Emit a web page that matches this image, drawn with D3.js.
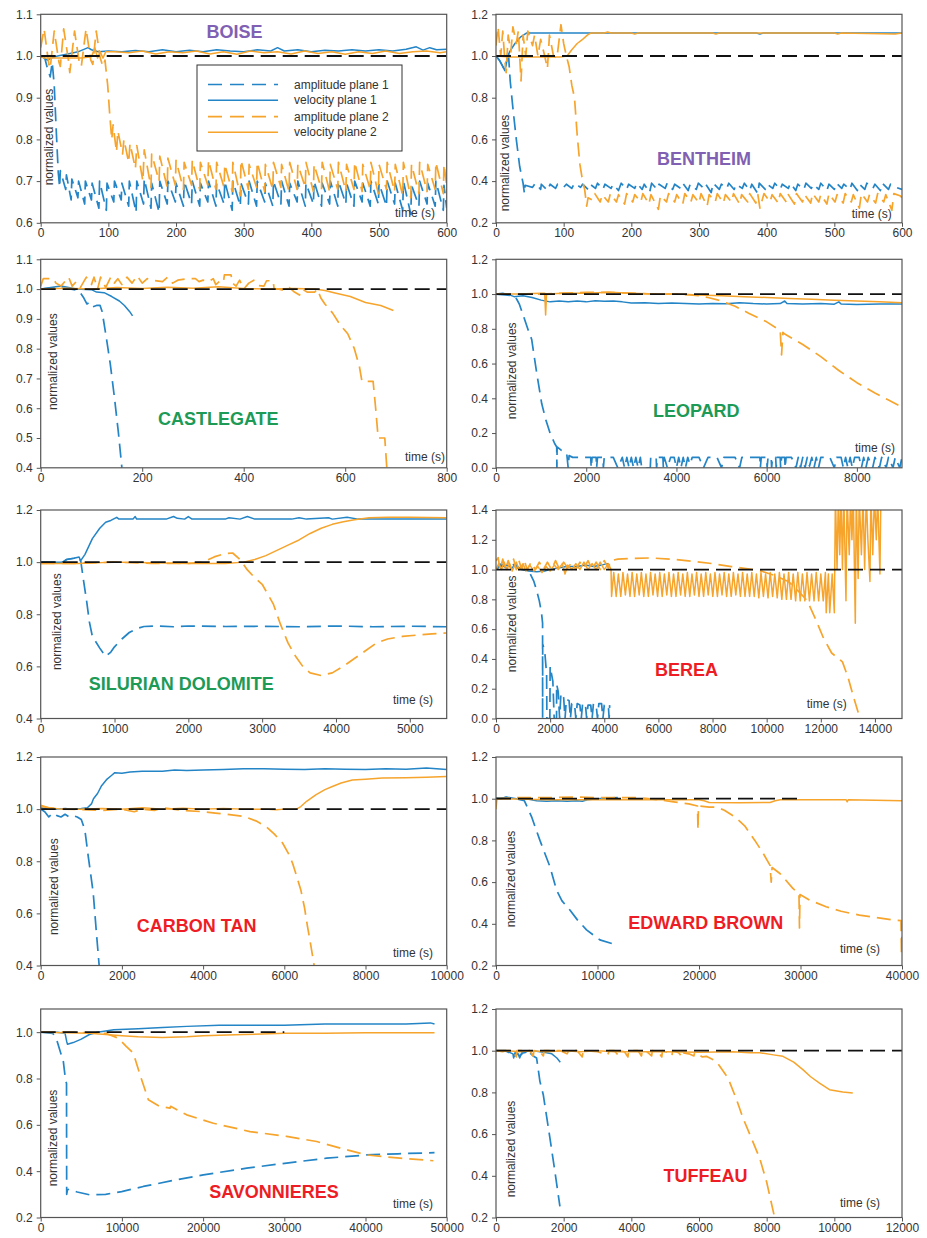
<!DOCTYPE html>
<html>
<head>
<meta charset="utf-8">
<script src="https://cdn.jsdelivr.net/npm/d3@7"></script>
<style>
  body { margin: 0; background: #fff; }
  text { font-family: "Liberation Sans", Arial, sans-serif; }
</style>
</head>
<body>
<svg id="chart" width="927" height="1238"></svg>
<script>
// ---------------- data: [time (s), normalized value] ----------------
// BOISE
const boiseAmp1 = [[0,1.0],[6,0.995],[10,0.97],[14,0.95],[17,0.985],[20,0.93],[23,0.82],[26,0.72],[28,0.685],[29,0.725],[37,0.68],[38,0.715],[45,0.655],[46,0.705],[55,0.66],[56,0.70],[65,0.645],[66,0.70],[75,0.655],[76,0.695],[86,0.635],[87,0.70],[97,0.63],[98,0.695],[108,0.65],[109,0.70],[119,0.655],[120,0.695],[130,0.64],[131,0.70],[141,0.625],[142,0.70],[152,0.645],[153,0.705],[163,0.635],[164,0.695],[175,0.625],[176,0.70],[187,0.645],[188,0.70],[199,0.65],[200,0.695],[211,0.64],[212,0.70],[223,0.645],[224,0.70],[235,0.64],[236,0.695],[247,0.65],[248,0.70],[259,0.64],[260,0.695],[271,0.645],[272,0.70],[283,0.63],[284,0.70],[295,0.64],[296,0.695],[307,0.645],[308,0.70],[319,0.64],[320,0.70],[331,0.65],[332,0.695],[343,0.64],[344,0.70],[355,0.645],[356,0.70],[367,0.64],[368,0.695],[379,0.65],[380,0.70],[391,0.64],[392,0.695],[403,0.645],[404,0.70],[415,0.64],[416,0.695],[427,0.645],[428,0.70],[439,0.64],[440,0.70],[451,0.645],[452,0.695],[463,0.64],[464,0.70],[475,0.65],[476,0.695],[487,0.64],[488,0.70],[499,0.645],[500,0.695],[511,0.64],[512,0.70],[523,0.645],[524,0.695],[535,0.63],[536,0.70],[547,0.62],[548,0.69],[559,0.64],[560,0.70],[571,0.645],[572,0.695],[583,0.64],[584,0.70],[595,0.63],[596,0.69],[600,0.635]];
const boiseVel1 = [[0,1.0],[5,0.995],[10,0.99],[15,0.995],[25,1.0],[40,1.005],[55,1.01],[70,1.02],[75,1.015],[85,1.01],[100,1.012],[120,1.01],[140,1.013],[160,1.01],[180,1.015],[200,1.01],[220,1.014],[240,1.01],[260,1.015],[280,1.012],[300,1.01],[320,1.015],[340,1.012],[350,1.02],[360,1.012],[380,1.015],[400,1.01],[420,1.014],[440,1.012],[460,1.015],[480,1.012],[500,1.015],[520,1.012],[540,1.016],[555,1.022],[565,1.014],[575,1.02],[585,1.015],[600,1.016]];
const boiseAmp2 = [[0,1.02],[5,1.065],[12,0.98],[14,0.97],[20,1.06],[27,0.985],[29,0.975],[34,1.065],[41,0.99],[43,0.96],[50,1.06],[57,0.985],[60,0.975],[67,1.065],[74,0.99],[77,0.98],[82,1.06],[88,0.995],[92,0.975],[95,0.99],[99,0.93],[102,0.86],[105,0.80],[107,0.835],[112,0.77],[114,0.82],[121,0.765],[123,0.80],[130,0.745],[132,0.79],[140,0.73],[142,0.785],[151,0.70],[153,0.775],[163,0.685],[164,0.765],[175,0.70],[176,0.76],[187,0.685],[188,0.755],[199,0.69],[200,0.75],[211,0.68],[212,0.745],[223,0.69],[224,0.75],[235,0.68],[236,0.745],[247,0.69],[248,0.75],[259,0.68],[260,0.745],[271,0.685],[272,0.74],[283,0.675],[284,0.745],[295,0.665],[296,0.75],[307,0.68],[308,0.74],[319,0.685],[320,0.745],[331,0.675],[332,0.74],[343,0.68],[344,0.745],[355,0.685],[356,0.74],[367,0.675],[368,0.745],[379,0.68],[380,0.74],[391,0.685],[392,0.745],[403,0.675],[404,0.74],[415,0.68],[416,0.745],[427,0.675],[428,0.74],[439,0.68],[440,0.745],[451,0.675],[452,0.74],[463,0.68],[464,0.745],[475,0.675],[476,0.74],[487,0.68],[488,0.745],[499,0.67],[500,0.74],[511,0.68],[512,0.745],[523,0.675],[524,0.74],[535,0.665],[536,0.745],[547,0.66],[548,0.74],[559,0.67],[560,0.745],[571,0.675],[572,0.74],[583,0.68],[584,0.745],[595,0.67],[596,0.74],[600,0.69]];
const boiseVel2 = [[0,1.0],[5,0.995],[60,0.995],[75,0.998],[80,1.02],[84,0.995],[88,1.01],[92,0.995],[96,1.01],[110,1.01],[130,1.008],[150,1.012],[170,1.005],[190,1.01],[210,1.008],[230,1.012],[250,1.005],[270,1.01],[290,1.004],[310,1.012],[330,1.008],[350,1.01],[370,1.005],[390,1.012],[410,1.006],[430,1.01],[450,1.004],[470,1.01],[490,1.006],[510,1.012],[530,1.006],[550,1.01],[570,1.012],[590,1.008],[600,1.01]];

// BENTHEIM
const bentheimAmp1 = [[0,1.0],[5,0.98],[10,0.95],[13,0.93],[16,0.98],[18,1.03],[21,0.88],[25,0.75],[30,0.6],[35,0.47],[40,0.39],[42,0.34],[43,0.38],[54,0.37],[58,0.39],[66,0.36],[67,0.385],[76,0.355],[80,0.385],[88,0.365],[91,0.385],[100,0.37],[104,0.385],[112,0.365],[116,0.39],[125,0.37],[128,0.385],[136,0.36],[139,0.385],[147,0.365],[150,0.39],[158,0.36],[161,0.385],[170,0.365],[173,0.385],[181,0.355],[185,0.39],[193,0.36],[196,0.385],[205,0.365],[208,0.39],[216,0.36],[219,0.385],[227,0.345],[230,0.39],[238,0.36],[241,0.385],[250,0.365],[253,0.39],[261,0.36],[264,0.385],[273,0.365],[276,0.39],[284,0.355],[287,0.385],[296,0.36],[299,0.39],[307,0.365],[310,0.385],[318,0.345],[321,0.39],[330,0.36],[333,0.385],[341,0.365],[344,0.39],[352,0.36],[355,0.385],[364,0.365],[367,0.39],[375,0.355],[378,0.385],[387,0.34],[389,0.39],[398,0.36],[401,0.385],[409,0.365],[412,0.39],[420,0.36],[423,0.385],[432,0.365],[435,0.39],[443,0.355],[446,0.385],[455,0.36],[458,0.39],[466,0.365],[469,0.385],[477,0.36],[480,0.39],[489,0.355],[492,0.385],[500,0.36],[503,0.39],[511,0.365],[514,0.385],[523,0.36],[526,0.39],[534,0.355],[537,0.385],[545,0.36],[548,0.39],[557,0.365],[560,0.385],[568,0.355],[571,0.39],[580,0.36],[583,0.385],[591,0.37],[600,0.36]];
const bentheimVel1 = [[0,1.0],[5,0.98],[10,0.95],[13,0.93],[16,0.98],[20,1.02],[28,1.06],[36,1.09],[45,1.11],[100,1.11],[200,1.11],[300,1.11],[385,1.11],[390,1.105],[395,1.11],[600,1.11]];
const bentheimAmp2 = [[0,1.05],[3,1.14],[7,1.0],[10,1.12],[13,0.98],[15,0.92],[18,1.1],[22,1.02],[25,1.14],[30,1.06],[33,1.12],[37,0.88],[40,1.1],[44,1.0],[47,1.12],[54,1.05],[57,1.1],[62,1.0],[66,1.08],[72,1.0],[76,0.94],[79,1.1],[85,1.0],[90,0.99],[96,1.15],[100,1.06],[104,1.0],[108,0.95],[112,0.86],[116,0.8],[120,0.62],[124,0.48],[128,0.4],[131,0.36],[134,0.28],[136,0.32],[142,0.31],[146,0.34],[154,0.3],[157,0.335],[166,0.3],[169,0.34],[178,0.3],[181,0.335],[190,0.29],[193,0.34],[202,0.3],[205,0.335],[214,0.3],[217,0.34],[226,0.29],[229,0.335],[240,0.265],[243,0.33],[252,0.3],[255,0.34],[264,0.3],[267,0.335],[276,0.29],[279,0.34],[288,0.3],[291,0.335],[300,0.295],[303,0.34],[312,0.28],[315,0.335],[324,0.3],[327,0.34],[336,0.295],[339,0.335],[348,0.3],[351,0.34],[360,0.29],[363,0.335],[372,0.3],[375,0.34],[384,0.295],[387,0.335],[390,0.27],[396,0.34],[405,0.3],[408,0.335],[417,0.295],[420,0.34],[429,0.3],[432,0.335],[441,0.29],[444,0.34],[453,0.3],[456,0.335],[465,0.295],[468,0.34],[477,0.3],[480,0.335],[489,0.29],[492,0.34],[501,0.3],[504,0.335],[513,0.295],[516,0.34],[525,0.3],[528,0.335],[537,0.27],[540,0.34],[549,0.3],[552,0.335],[561,0.295],[564,0.34],[573,0.3],[576,0.335],[585,0.26],[588,0.34],[597,0.33],[600,0.32]];
const bentheimVel2 = [[0,1.0],[20,0.995],[60,0.995],[95,0.995],[105,1.0],[112,1.03],[120,1.06],[128,1.08],[135,1.1],[140,1.11],[160,1.11],[165,1.115],[170,1.11],[200,1.11],[205,1.105],[210,1.11],[320,1.11],[325,1.105],[330,1.11],[500,1.11],[505,1.105],[510,1.11],[590,1.105],[600,1.11]];

// CASTLEGATE
const castleAmp1 = [[0,1.0],[30,1.005],[60,1.0],[75,0.995],[85,0.97],[91,0.95],[96,0.955],[102,0.94],[110,0.945],[117,0.945],[121,0.925],[129,0.84],[137,0.75],[145,0.64],[153,0.52],[160,0.4]];
const castleVel1 = [[0,1.0],[20,1.005],[40,1.01],[55,1.005],[70,1.0],[100,0.998],[110,0.99],[125,0.988],[140,0.975],[155,0.96],[165,0.945],[175,0.925],[181,0.91]];
const castleAmp2 = [[0,1.01],[5,1.035],[25,1.035],[30,1.02],[40,1.01],[55,1.04],[62,1.01],[70,1.025],[78,1.005],[90,1.04],[100,1.015],[105,1.04],[112,1.0],[118,1.04],[128,1.005],[138,1.04],[145,1.02],[152,1.035],[160,1.015],[170,1.04],[180,1.02],[190,1.045],[200,1.02],[210,1.035],[220,1.03],[240,1.025],[250,1.04],[260,1.02],[270,1.03],[290,1.035],[305,1.035],[312,1.025],[320,1.03],[330,1.025],[340,1.035],[345,1.015],[352,1.025],[360,1.022],[362,1.048],[375,1.048],[378,1.02],[385,1.01],[392,1.03],[400,1.0],[410,1.02],[420,1.03],[428,1.012],[440,1.01],[445,1.028],[458,1.028],[460,1.0],[470,1.0],[480,0.995],[490,1.005],[500,0.99],[510,0.98],[515,1.0],[525,0.99],[540,0.99],[545,1.0],[552,0.97],[560,0.95],[575,0.92],[590,0.88],[605,0.85],[618,0.8],[628,0.74],[633,0.69],[655,0.69],[660,0.6],[665,0.5],[678,0.5],[682,0.4]];
const castleVel2 = [[0,1.0],[50,1.003],[100,1.0],[150,1.005],[200,1.002],[250,1.006],[300,1.003],[350,1.008],[400,1.002],[450,1.0],[500,1.002],[540,1.0],[560,0.995],[580,0.987],[610,0.975],[640,0.955],[670,0.945],[695,0.928]];

// LEOPARD
const leopardAmp1 = [[0,1.0],[200,0.995],[400,0.99],[460,0.97],[520,0.94],[600,0.88],[717,0.79],[790,0.74],[900,0.55],[1013,0.37],[1100,0.28],[1198,0.2],[1300,0.14],[1346,0.12],[1350,0.0],[1355,0.12],[1450,0.1],[1567,0.085],[1600,0.0],[1620,0.07],[1700,0.06],[2100,0.06],[2110,0.0],[2130,0.06],[2220,0.06],[2230,0.0],[2250,0.06],[2370,0.06],[2380,0.0],[2400,0.06],[2600,0.06],[2700,0.0],[2800,0.06],[2850,0.0],[2900,0.06],[2950,0.0],[3000,0.06],[3050,0.0],[3100,0.06],[3150,0.0],[3200,0.06],[3230,0.0],[3420,0.0],[3430,0.06],[3550,0.06],[3560,0.0],[3580,0.06],[3700,0.06],[3710,0.0],[3730,0.06],[3800,0.0],[3870,0.06],[3950,0.06],[4000,0.0],[4050,0.06],[4100,0.0],[4150,0.06],[4200,0.0],[4250,0.06],[4300,0.02],[4350,0.06],[4500,0.06],[4600,0.0],[4700,0.06],[4900,0.06],[5000,0.0],[5050,0.06],[5300,0.06],[5400,0.0],[5450,0.06],[5850,0.06],[5860,0.0],[5880,0.06],[6000,0.06],[6010,0.0],[6030,0.06],[6100,0.06],[6110,0.0],[6130,0.06],[6200,0.06],[6210,0.0],[6230,0.06],[6300,0.06],[6310,0.0],[6330,0.06],[6400,0.06],[6410,0.0],[6430,0.06],[6550,0.06],[6650,0.0],[6700,0.06],[6750,0.0],[6800,0.06],[6850,0.0],[6900,0.06],[6950,0.01],[7000,0.06],[7050,0.0],[7100,0.06],[7150,0.0],[7200,0.06],[7400,0.06],[7500,0.0],[7550,0.06],[7650,0.06],[7700,0.0],[7750,0.06],[7800,0.0],[7850,0.06],[7900,0.0],[7950,0.06],[8050,0.06],[8100,0.0],[8150,0.06],[8200,0.0],[8250,0.06],[8350,0.0],[8400,0.06],[8500,0.0],[8550,0.06],[8650,0.0],[8700,0.06],[8800,0.0],[8850,0.06],[8950,0.0],[9000,0.06]];
const leopardVel1 = [[0,1.0],[150,1.005],[300,0.995],[400,0.985],[600,0.99],[800,0.98],[1000,0.965],[1200,0.955],[1400,0.96],[1600,0.955],[1800,0.96],[2000,0.955],[2200,0.962],[2400,0.958],[2600,0.96],[2800,0.955],[3000,0.948],[3300,0.95],[3600,0.945],[3900,0.948],[4200,0.945],[4500,0.943],[4800,0.946],[5100,0.944],[5400,0.95],[5700,0.945],[6000,0.943],[6300,0.945],[6400,0.96],[6450,0.945],[6800,0.943],[7200,0.945],[7500,0.942],[7600,0.955],[7650,0.943],[8000,0.94],[8500,0.943],[9000,0.943]];
const leopardAmp2 = [[0,1.0],[500,1.0],[1000,1.0],[1500,1.005],[2000,1.01],[2500,1.01],[3000,1.005],[3500,1.0],[4000,1.0],[4300,0.995],[4500,0.99],[4700,0.98],[5000,0.96],[5300,0.93],[5600,0.89],[6000,0.84],[6300,0.79],[6330,0.65],[6360,0.78],[6400,0.77],[6800,0.71],[7200,0.64],[7600,0.56],[8000,0.49],[8400,0.43],[8700,0.39],[9000,0.35]];
const leopardVel2 = [[0,1.0],[500,1.0],[1000,1.005],[1080,1.005],[1100,0.88],[1120,1.0],[1500,1.005],[2000,1.005],[2500,1.01],[3000,1.005],[3500,1.0],[4000,1.0],[4500,0.995],[5000,0.99],[5500,0.985],[6000,0.98],[6500,0.975],[7000,0.97],[7500,0.965],[8000,0.96],[8500,0.955],[9000,0.95]];

// SILURIAN DOLOMITE
const silurAmp1 = [[0,1.0],[300,1.0],[350,1.01],[450,1.015],[520,1.02],[545,1.0],[580,0.93],[620,0.855],[660,0.77],[700,0.715],[800,0.67],[880,0.638],[950,0.655],[1000,0.675],[1100,0.705],[1200,0.73],[1300,0.745],[1400,0.753],[1600,0.755],[1800,0.752],[2000,0.755],[2500,0.753],[3000,0.754],[3500,0.752],[4000,0.755],[4500,0.752],[5000,0.754],[5500,0.752]];
const silurVel1 = [[0,1.0],[300,1.0],[350,1.01],[450,1.015],[520,1.02],[540,1.005],[600,1.03],[700,1.09],[800,1.13],[880,1.153],[950,1.16],[1030,1.172],[1060,1.165],[1250,1.165],[1280,1.175],[1300,1.165],[1700,1.165],[1800,1.175],[1850,1.168],[1950,1.165],[2000,1.175],[2050,1.165],[2500,1.165],[2550,1.17],[2700,1.165],[2800,1.175],[2900,1.165],[3400,1.165],[3500,1.17],[3600,1.165],[3900,1.17],[3950,1.165],[4150,1.172],[4300,1.165],[5000,1.165],[5500,1.165]];
const silurAmp2 = [[0,0.995],[500,0.995],[1000,1.0],[1500,0.995],[2000,0.995],[2200,1.0],[2350,1.02],[2500,1.033],[2600,1.035],[2700,1.01],[2800,0.97],[2900,0.94],[3000,0.915],[3150,0.84],[3250,0.76],[3350,0.69],[3450,0.64],[3550,0.6],[3650,0.575],[3800,0.565],[3950,0.575],[4100,0.6],[4250,0.63],[4400,0.66],[4550,0.69],[4700,0.705],[4900,0.715],[5100,0.72],[5300,0.725],[5500,0.728]];
const silurVel2 = [[0,0.995],[500,0.995],[1000,1.0],[1500,0.998],[2000,0.995],[2500,0.995],[2750,1.0],[2900,1.01],[3050,1.025],[3200,1.045],[3350,1.065],[3500,1.085],[3650,1.11],[3800,1.13],[3950,1.145],[4100,1.155],[4250,1.163],[4450,1.17],[4700,1.172],[5000,1.172],[5500,1.17]];

// BEREA
const bereaAmp1 = [[0,1.0],[200,1.03],[400,1.01],[600,1.04],[800,1.01],[1000,1.0],[1150,0.995],[1254,0.975],[1400,0.92],[1500,0.86],[1600,0.79],[1684,0.705],[1721,0.64],[1722,0.0],[1725,0.5],[1800,0.45],[1870,0.3],[1880,0.0],[1990,0.0],[2000,0.35],[2100,0.25],[2150,0.0],[2237,0.0],[2240,0.23],[2300,0.18],[2350,0.0],[2400,0.17],[2500,0.14],[2550,0.0],[2600,0.13],[2700,0.12],[2750,0.0],[2800,0.1],[2900,0.1],[2950,0.0],[3000,0.1],[3100,0.09],[3150,0.0],[3200,0.1],[3300,0.1],[3350,0.0],[3400,0.09],[3500,0.09],[3550,0.0],[3600,0.1],[3700,0.09],[3750,0.0],[3800,0.1],[3900,0.1],[3950,0.0],[4000,0.09],[4150,0.09],[4180,0.0],[4200,0.09]];
const bereaVel1 = [[0,1.0],[100,1.02],[200,1.04],[300,1.02],[400,1.03],[600,1.01],[700,1.04],[800,1.02],[1000,1.0],[1200,0.99],[1500,0.985],[1800,0.99],[2000,1.0],[2300,1.01],[2600,1.02],[3000,1.02],[3300,1.03],[3600,1.02],[3900,1.03],[4100,1.04],[4200,1.03]];
const bereaAmp2 = [[0,1.06],[80,1.08],[150,1.0],[250,1.07],[350,1.0],[450,1.06],[550,1.01],[650,1.07],[750,1.0],[850,1.06],[950,1.0],[1050,1.06],[1150,1.0],[1300,1.05],[1450,1.0],[1600,1.05],[1750,1.0],[1900,1.05],[2050,1.0],[2200,1.06],[2350,1.0],[2500,1.05],[2650,1.01],[2800,1.05],[2950,1.0],[3100,1.05],[3250,1.01],[3400,1.06],[3550,1.0],[3700,1.05],[3850,1.0],[4000,1.06],[4150,1.01],[4250,1.06],[4500,1.07],[5000,1.075],[5700,1.078],[6500,1.07],[7300,1.055],[8000,1.04],[8700,1.02],[9300,1.005],[9800,0.99],[10300,0.96],[10800,0.92],[11200,0.85],[11500,0.79],[11800,0.67],[12100,0.54],[12400,0.44],[12800,0.38],[13000,0.28],[13200,0.15],[13450,0.0]];
const bereaVel2 = [[0,1.0],[100,1.04],[200,1.0],[300,1.05],[400,1.0],[500,1.04],[600,0.99],[750,1.05],[850,1.0],[1000,1.04],[1100,0.99],[1250,1.03],[1400,0.99],[1550,1.02],[1700,0.98],[1850,1.02],[2000,0.99],[2150,1.03],[2300,1.0],[2450,1.04],[2550,0.97],[2650,1.03],[2800,1.0],[2950,1.04],[3100,1.0],[3250,1.05],[3400,1.0],[3550,1.04],[3700,1.0],[3850,1.05],[4000,1.0],[4150,1.04],[4250,1.0],[4270,0.82],[4350,0.98],[4440,0.82],[4520,0.97],[4610,0.82],[4690,0.98],[4780,0.83],[4860,0.97],[4950,0.82],[5030,0.98],[5120,0.82],[5200,0.97],[5290,0.83],[5370,0.98],[5460,0.82],[5540,0.97],[5630,0.82],[5710,0.98],[5800,0.83],[5880,0.97],[5970,0.82],[6050,0.98],[6140,0.82],[6220,0.97],[6310,0.83],[6390,0.98],[6480,0.82],[6560,0.97],[6650,0.82],[6730,0.98],[6820,0.83],[6900,0.97],[6990,0.82],[7070,0.98],[7160,0.82],[7240,0.97],[7330,0.83],[7410,0.98],[7500,0.82],[7580,0.97],[7670,0.82],[7750,0.98],[7840,0.83],[7920,0.97],[8010,0.82],[8090,0.98],[8180,0.82],[8260,0.97],[8350,0.83],[8430,0.98],[8520,0.82],[8600,0.97],[8690,0.82],[8770,0.98],[8860,0.83],[8940,0.97],[9030,0.82],[9110,0.98],[9200,0.82],[9280,0.97],[9370,0.82],[9450,0.98],[9540,0.82],[9620,0.97],[9710,0.81],[9790,0.98],[9880,0.82],[9960,0.97],[10050,0.81],[10130,0.98],[10220,0.82],[10300,0.97],[10390,0.81],[10470,0.98],[10560,0.80],[10640,0.97],[10730,0.80],[10810,0.98],[10900,0.80],[10980,0.97],[11070,0.79],[11150,0.98],[11240,0.79],[11320,0.97],[11410,0.79],[11490,0.98],[11580,0.79],[11660,0.97],[11750,0.79],[11830,0.98],[11920,0.79],[12000,0.97],[12090,0.79],[12170,0.98],[12200,0.71],[12280,0.97],[12330,0.71],[12420,0.97],[12500,0.71],[12540,1.5],[12600,1.0],[12650,1.5],[12700,1.1],[12750,1.5],[12800,1.0],[12850,1.5],[12930,0.79],[12970,1.5],[13050,1.1],[13100,1.5],[13150,1.2],[13200,1.5],[13275,0.64],[13310,1.5],[13380,0.94],[13420,1.5],[13500,1.1],[13560,1.5],[13620,1.0],[13680,1.5],[13740,1.2],[13815,0.92],[13850,1.5],[13920,1.1],[13980,1.5],[14050,1.2],[14100,1.5],[14185,0.97],[14220,1.5]];

// CARBON TAN
const carbonAmp1 = [[0,1.0],[100,0.99],[200,0.97],[300,0.985],[400,0.975],[500,0.97],[600,0.98],[700,0.97],[800,0.975],[900,0.97],[1000,0.96],[1088,0.92],[1170,0.82],[1293,0.68],[1375,0.52],[1440,0.4]];
const carbonVel1 = [[0,1.005],[200,1.0],[400,1.0],[600,1.002],[800,1.0],[1000,1.002],[1150,1.005],[1250,1.02],[1300,1.04],[1400,1.06],[1500,1.09],[1620,1.113],[1750,1.13],[1825,1.14],[2000,1.138],[2200,1.142],[2500,1.145],[3000,1.145],[3300,1.15],[3600,1.148],[4000,1.15],[4500,1.152],[5000,1.155],[5500,1.155],[6000,1.153],[6500,1.152],[7000,1.155],[7500,1.153],[8000,1.152],[8500,1.155],[9000,1.153],[9500,1.158],[10000,1.152]];
const carbonAmp2 = [[0,1.015],[200,1.005],[500,1.0],[1000,0.998],[1500,0.995],[2000,1.0],[2300,0.99],[2500,1.0],[2800,0.995],[3000,1.005],[3500,0.995],[4000,0.99],[4300,0.985],[4600,0.98],[5000,0.972],[5300,0.955],[5548,0.934],[5750,0.905],[5957,0.87],[6100,0.83],[6202,0.793],[6300,0.745],[6407,0.69],[6500,0.62],[6571,0.55],[6650,0.48],[6735,0.4]];
const carbonVel2 = [[0,1.01],[200,1.005],[500,1.0],[1000,1.0],[1500,1.002],[2000,1.0],[2500,1.005],[3000,1.0],[3500,1.003],[4000,1.0],[4500,1.002],[5000,1.0],[5500,1.0],[5800,0.998],[6000,1.0],[6300,1.0],[6407,1.01],[6550,1.03],[6775,1.055],[7000,1.075],[7184,1.087],[7400,1.1],[7675,1.112],[8000,1.115],[8412,1.119],[9000,1.12],[9500,1.122],[10000,1.125]];

// EDWARD BROWN
const edwardAmp1 = [[0,1.0],[1000,1.005],[2000,1.0],[2800,0.99],[3508,0.913],[4328,0.8],[5311,0.674],[5967,0.562],[6500,0.51],[7279,0.466],[8000,0.42],[8918,0.371],[10230,0.323],[11869,0.299]];
const edwardVel1 = [[0,1.005],[500,1.0],[1000,1.008],[2000,1.0],[3000,1.0],[4000,0.99],[5000,0.988],[6000,0.99],[7000,0.988],[8000,0.99],[8500,0.988],[9000,0.995],[10000,1.0],[11000,1.003],[12000,1.006]];
const edwardAmp2 = [[0,1.0],[2000,1.005],[5000,1.005],[8000,1.008],[10000,1.005],[12000,1.005],[14000,1.005],[15000,1.0],[16000,0.995],[17500,0.985],[19000,0.975],[19850,0.965],[19900,0.85],[19950,0.965],[21000,0.96],[21705,0.96],[22500,0.945],[23600,0.91],[24500,0.87],[25500,0.8],[26300,0.74],[27000,0.68],[27115,0.6],[27200,0.67],[28000,0.64],[29246,0.57],[29850,0.545],[29900,0.38],[29950,0.54],[30885,0.514],[32525,0.482],[34000,0.46],[35803,0.442],[37500,0.43],[39082,0.419],[39900,0.415],[39950,0.25],[40000,0.4]];
const edwardVel2 = [[0,0.95],[100,1.0],[2000,0.998],[5000,0.995],[10000,0.995],[15000,0.995],[20000,0.995],[20500,0.99],[21000,0.982],[24000,0.98],[27000,0.982],[27500,0.99],[28000,0.995],[30000,0.995],[34500,0.995],[34600,0.985],[34700,0.995],[40000,0.99]];

// SAVONNIERES
const savonAmp1 = [[0,1.0],[1500,0.995],[1970,0.967],[2790,0.873],[3079,0.787],[3180,0.78],[3200,0.3],[3300,0.32],[3500,0.322],[4500,0.31],[6000,0.298],[8000,0.3],[9975,0.312],[12643,0.334],[16749,0.363],[20033,0.384],[25369,0.413],[30296,0.435],[35222,0.456],[40148,0.47],[44000,0.475],[48500,0.48]];
const savonVel1 = [[0,1.0],[2000,1.0],[3000,0.995],[3200,0.96],[3300,0.948],[4000,0.955],[5000,0.97],[6000,0.99],[7000,1.0],[9000,1.01],[12000,1.015],[15000,1.02],[18000,1.025],[22000,1.03],[26000,1.03],[30000,1.03],[35000,1.035],[40000,1.035],[45000,1.035],[48000,1.04],[48500,1.035]];
const savonAmp2 = [[0,1.0],[4000,1.0],[8000,0.995],[9565,0.974],[10500,0.94],[11412,0.909],[12233,0.816],[13259,0.708],[14696,0.679],[15928,0.672],[16000,0.68],[17980,0.643],[21264,0.607],[25780,0.571],[30296,0.55],[33990,0.528],[37685,0.492],[40148,0.47],[44253,0.456],[48358,0.445]];
const savonVel2 = [[0,1.0],[3000,0.998],[6000,0.995],[8000,0.99],[10000,0.985],[12000,0.98],[15000,0.977],[18000,0.98],[20000,0.985],[25000,0.99],[30000,0.995],[35000,0.995],[40000,0.998],[45000,0.998],[48500,0.998]];

// TUFFEAU
const tuffAmp1 = [[0,1.0],[300,1.0],[400,0.99],[500,0.98],[550,0.97],[600,0.99],[700,0.975],[800,0.99],[900,0.985],[1000,0.99],[1100,0.975],[1200,0.965],[1298,0.853],[1397,0.789],[1500,0.68],[1594,0.581],[1741,0.421],[1889,0.253]];
const tuffVel1 = [[0,1.0],[200,1.0],[350,0.995],[500,0.985],[520,0.965],[560,0.99],[650,0.985],[700,0.965],[760,0.99],[850,0.99],[950,1.0],[1100,1.0],[1300,0.995],[1500,0.99],[1650,0.985],[1800,0.965],[1900,0.945]];
const tuffAmp2 = [[0,1.0],[500,1.0],[600,0.97],[620,1.0],[1000,1.0],[1100,0.975],[1120,1.0],[1300,0.995],[1400,0.975],[1420,1.0],[1900,1.0],[2100,0.985],[2150,1.0],[2400,1.0],[2550,0.97],[2580,1.0],[3000,0.995],[3300,0.98],[3350,1.0],[3500,1.0],[3600,0.98],[3620,1.0],[3800,0.995],[3900,0.97],[3920,1.0],[4200,1.0],[4300,0.975],[4320,1.0],[4500,0.99],[4600,0.975],[4620,1.0],[4800,0.995],[4900,0.97],[4920,1.0],[5100,0.99],[5200,0.975],[5220,1.0],[5400,0.99],[5500,0.97],[5520,0.99],[5700,0.985],[5850,0.975],[5870,0.99],[6000,0.98],[6100,0.97],[6217,0.973],[6512,0.949],[6857,0.869],[7100,0.77],[7300,0.677],[7550,0.58],[7792,0.485],[8000,0.37],[8235,0.2]];
const tuffVel2 = [[0,1.0],[200,0.995],[300,1.0],[700,0.995],[1000,1.0],[1500,0.995],[2000,1.0],[2500,0.995],[3000,1.0],[3500,0.995],[4000,0.995],[5000,0.995],[6000,0.993],[7000,0.995],[7500,0.99],[7800,0.99],[8200,0.98],[8480,0.973],[8800,0.945],[9070,0.909],[9300,0.875],[9562,0.845],[9857,0.813],[10250,0.802],[10545,0.797]];

// rock names, axis ranges and tick labels
const rockNames = ["BOISE","BENTHEIM","CASTLEGATE","LEOPARD","SILURIAN DOLOMITE","BEREA","CARBON TAN","EDWARD BROWN","SAVONNIERES","TUFFEAU"];
const xMaxes = [600,600,800,9000,5500,15000,10000,40000,50000,12000];
const xTickLists = [
  [0,100,200,300,400,500,600],
  [0,100,200,300,400,500,600],
  [0,200,400,600,800],
  [0,2000,4000,6000,8000],
  [0,1000,2000,3000,4000,5000],
  [0,2000,4000,6000,8000,10000,12000,14000],
  [0,2000,4000,6000,8000,10000],
  [0,10000,20000,30000,40000],
  [0,10000,20000,30000,40000,50000],
  [0,2000,4000,6000,8000,10000,12000]
];
const yRanges = [[0.6,1.1],[0.2,1.2],[0.4,1.1],[0.0,1.2],[0.4,1.2],[0.0,1.4],[0.4,1.2],[0.2,1.2],[0.2,1.1],[0.2,1.2]];
const yTickLists = [
  [0.6,0.7,0.8,0.9,1.0,1.1],
  [0.2,0.4,0.6,0.8,1.0,1.2],
  [0.4,0.5,0.6,0.7,0.8,0.9,1.0,1.1],
  [0.0,0.2,0.4,0.6,0.8,1.0,1.2],
  [0.4,0.6,0.8,1.0,1.2],
  [0.0,0.2,0.4,0.6,0.8,1.0,1.2,1.4],
  [0.4,0.6,0.8,1.0,1.2],
  [0.2,0.4,0.6,0.8,1.0,1.2],
  [0.2,0.4,0.6,0.8,1.0],
  [0.2,0.4,0.6,0.8,1.0,1.2]
];
// end of the black reference line at 1.0
const refEnds = [600,600,800,9000,5500,15000,10000,30000,30000,12000];
const seriesNames = ["amplitude plane 1","velocity plane 1","amplitude plane 2","velocity plane 2"];
const allSeries = [
  [boiseAmp1,boiseVel1,boiseAmp2,boiseVel2],
  [bentheimAmp1,bentheimVel1,bentheimAmp2,bentheimVel2],
  [castleAmp1,castleVel1,castleAmp2,castleVel2],
  [leopardAmp1,leopardVel1,leopardAmp2,leopardVel2],
  [silurAmp1,silurVel1,silurAmp2,silurVel2],
  [bereaAmp1,bereaVel1,bereaAmp2,bereaVel2],
  [carbonAmp1,carbonVel1,carbonAmp2,carbonVel2],
  [edwardAmp1,edwardVel1,edwardAmp2,edwardVel2],
  [savonAmp1,savonVel1,savonAmp2,savonVel2],
  [tuffAmp1,tuffVel1,tuffAmp2,tuffVel2]
];

// ---------------- layout ----------------
const colLeft = [40.7, 496];
const rowTop = [14.3, 259.3, 510, 757, 1009];
const plotW = 406, plotH = 208.5;
const blue = "#2384c6", orange = "#f6a42c";
const purple = "#7f60b3", green = "#1c9a56", red = "#ee1c24";
const lineColors = [blue, blue, orange, orange];
const lineDash = ["14,7", null, "14,7", null];
// title (center x, baseline y), "normalized values" center, "time (s)" right end — absolute pixels
const labelPos = [
  {title:[234.5,38], tc:purple, yl:[49,137], tl:[435,216.7]},
  {title:[704,165], tc:purple, yl:[505,163], tl:[891.7,218]},
  {title:[218.3,425], tc:green, yl:[53,361.7], tl:[445,460.7]},
  {title:[696.3,416.7], tc:green, yl:[511.7,370.8], tl:[895,451.7]},
  {title:[181.3,690], tc:green, yl:[57,621.7], tl:[433,704]},
  {title:[686.5,675.7], tc:red, yl:[511.7,623.8], tl:[846.7,708]},
  {title:[196.7,931.7], tc:red, yl:[54,886.7], tl:[433,956.7]},
  {title:[705.8,929.3], tc:red, yl:[511,879], tl:[880,953]},
  {title:[274,1197.7], tc:red, yl:[53,1138], tl:[433,1208]},
  {title:[705.5,1182.3], tc:red, yl:[510.7,1149], tl:[880,1206.7]}
];

const svg = d3.select("#chart");
const defs = svg.append("defs");

rockNames.forEach((name, i) => {
  const col = i % 2, row = Math.floor(i / 2);
  const x0 = colLeft[col], y0 = rowTop[row];

  const x = d3.scaleLinear().domain([0, xMaxes[i]]).range([0, plotW]);
  const y = d3.scaleLinear().domain(yRanges[i]).range([plotH, 0]);

  const g = svg.append("g").attr("transform", `translate(${x0},${y0})`);

  defs.append("clipPath").attr("id", "clip" + i)
    .append("rect").attr("width", plotW).attr("height", plotH);

  // axes
  const xAxis = d3.axisBottom(x).tickValues(xTickLists[i]).tickFormat(d3.format("d"))
    .tickSize(4).tickSizeOuter(0).tickPadding(2);
  const yAxis = d3.axisLeft(y).tickValues(yTickLists[i]).tickFormat(d3.format(".1f"))
    .tickSize(4).tickSizeOuter(0).tickPadding(4);
  const gx = g.append("g").attr("transform", `translate(0,${plotH})`).call(xAxis);
  const gy = g.append("g").call(yAxis);
  [gx, gy].forEach(a => {
    a.select(".domain").remove();
    a.selectAll(".tick line").attr("stroke", "#555");
    a.selectAll(".tick text").attr("fill", "#333").style("font-size", "12px")
      .style("font-family", "'Liberation Sans', Arial, sans-serif");
  });

  // data lines
  const line = d3.line().x(d => x(d[0])).y(d => y(d[1]));
  const plot = g.append("g").attr("clip-path", `url(#clip${i})`);
  allSeries[i].forEach((s, k) => {
    plot.append("path").datum(s)
      .attr("d", line)
      .attr("fill", "none")
      .attr("stroke", lineColors[k])
      .attr("stroke-width", k % 2 === 0 ? 1.7 : 1.5)
      .attr("stroke-linejoin", "round")
      .attr("stroke-dasharray", lineDash[k]);
  });

  // reference line at 1.0
  plot.append("line")
    .attr("x1", x(0)).attr("x2", x(refEnds[i]))
    .attr("y1", y(1)).attr("y2", y(1))
    .attr("stroke", "#111").attr("stroke-width", 1.8)
    .attr("stroke-dasharray", "15,7");

  // frame
  g.append("rect").attr("width", plotW).attr("height", plotH)
    .attr("fill", "none").attr("stroke", "#555").attr("stroke-width", 1.2);

  const lp = labelPos[i];
  svg.append("text").attr("x", lp.title[0]).attr("y", lp.title[1])
    .attr("text-anchor", "middle").attr("fill", lp.tc)
    .style("font-size", "18px").style("font-weight", "bold").text(name);

  svg.append("text")
    .attr("transform", `translate(${lp.yl[0]},${lp.yl[1]}) rotate(-90)`)
    .attr("text-anchor", "middle").attr("dy", "0.35em")
    .attr("fill", "#333").style("font-size", "12px").text("normalized values");

  svg.append("text").attr("x", lp.tl[0]).attr("y", lp.tl[1])
    .attr("text-anchor", "end").attr("fill", "#333")
    .style("font-size", "12px").text("time (s)");
});

// legend (first panel only)
const leg = svg.append("g");
leg.append("rect").attr("x", 197).attr("y", 65).attr("width", 205).attr("height", 86)
  .attr("fill", "#fff").attr("stroke", "#333").attr("stroke-width", 1);
const legY = [84.5, 100.3, 116.7, 132.3];
seriesNames.forEach((n, k) => {
  leg.append("line").attr("x1", 208).attr("x2", 278).attr("y1", legY[k]).attr("y2", legY[k])
    .attr("stroke", lineColors[k]).attr("stroke-width", k % 2 === 0 ? 1.7 : 1.5)
    .attr("stroke-dasharray", lineDash[k] ? "14,8" : null);
  leg.append("text").attr("x", 294).attr("y", legY[k] + 4)
    .attr("fill", "#333").style("font-size", "12px").text(n);
});
</script>
</body>
</html>
